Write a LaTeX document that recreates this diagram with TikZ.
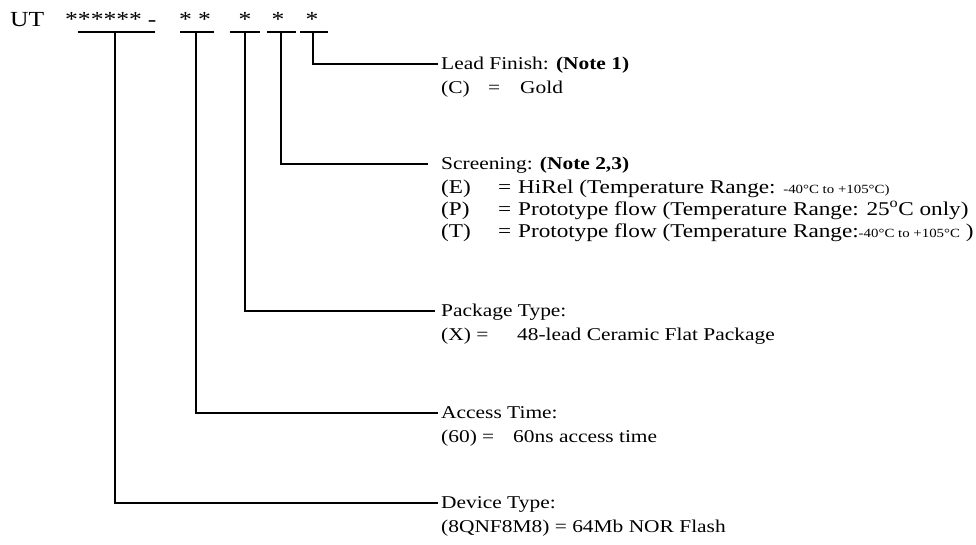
\documentclass[tikz,border=0pt]{standalone}
\usepackage{fontspec}
\setmainfont{Liberation Serif}[FakeStretch=1.19]
\usepackage{tikz}
\usepackage{xcolor}
\usetikzlibrary{calc}
\tikzstyle{partcode} =[
    inner sep=0pt,
    anchor=base,
    font=\fontsize{21.5}{26}\selectfont
    ]
\tikzstyle{fieldtitle} = [
    inner ysep=0pt,
    inner xsep=3pt,
    anchor=base west,
    text height=14pt,
    text depth=4pt,
    font=\fontsize{18}{22}\selectfont
    ]
\tikzstyle{fieldopt} = [
    inner sep=0pt,
    anchor=base west,
    font=\fontsize{18}{22}\selectfont
    ]
\tikzstyle{screenopt} = [
    fieldopt,
    font=\fontsize{19.5}{23}\selectfont
    ]
\tikzstyle{leader} = [line width=1.3pt]
\newcommand{\optrow}[4]{% key, equals sign, value
\makebox[#1][l]{#2}\makebox[#3][l]{=}#4}
\newcommand{\trange}[1]{{\fontsize{12.5}{15}\selectfont #1}}

\begin{document}
\begin{tikzpicture}[x=1pt,y=-1pt]
\useasboundingbox (0,0) rectangle (976,544);

% part number
\node[partcode, anchor=base west] (ut) at (10,26) {UT};
\node[partcode, anchor=base west] (dev-code) at (65,26) {******\hspace{6pt}-};
\node[partcode] (acc-code) at (195,26) {* *};
\node[partcode] (pkg-code) at (245,26) {*};
\node[partcode] (scr-code) at (278,26) {*};
\node[partcode] (lead-code) at (312,26) {*};

% fields
\node[fieldtitle] (lead) at (438,69) {Lead Finish: \textbf{(Note 1)}};
\node[fieldopt] (lead-c) at (441,93) {\optrow{47pt}{(C)}{32pt}{Gold}};

\node[fieldtitle] (scr) at (438,169) {Screening: \textbf{(Note 2,3)}};
\node[screenopt] (scr-e) at (441,193) {\optrow{57pt}{(E)}{20pt}{HiRel (Temperature Range: \trange{-40°C to +105°C)}}};
\node[screenopt] (scr-p) at (441,215) {\optrow{57pt}{(P)}{20pt}{Prototype flow (Temperature Range: 25\textsuperscript{o}C only)}};
\node[screenopt] (scr-t) at (441,237) {\optrow{57pt}{(T)}{20pt}{Prototype flow (Temperature Range:\trange{-40°C to +105°C} )}};

\node[fieldtitle] (pkg) at (438,316) {Package Type:};
\node[fieldopt] (pkg-x) at (441,340) {\makebox[76pt][l]{(X) =}48-lead Ceramic Flat Package};

\node[fieldtitle] (acc) at (438,418) {Access Time:};
\node[fieldopt] (acc-60) at (441,442) {\optrow{41pt}{(60)}{31pt}{60ns access time}};

\node[fieldtitle] (dev) at (438,508) {Device Type:};
\node[fieldopt] (dev-q) at (441,532) {(8QNF8M8) = 64Mb NOR Flash};

% leaders
\foreach \l/\m/\r/\n/\s in {78/115/155/dev/0pt, 180/196/214/acc/0pt, 230/245/260/pkg/3pt, 267/281/296/scr/10pt, 300/313/328/lead/0pt}{
    \coordinate (\n-top) at (\m,32);
    \draw[leader] (\l,32) -- (\r,32);
    \draw[leader, shorten >=\s] (\n-top) |- (\n.west);
}
\end{tikzpicture}
\end{document}
